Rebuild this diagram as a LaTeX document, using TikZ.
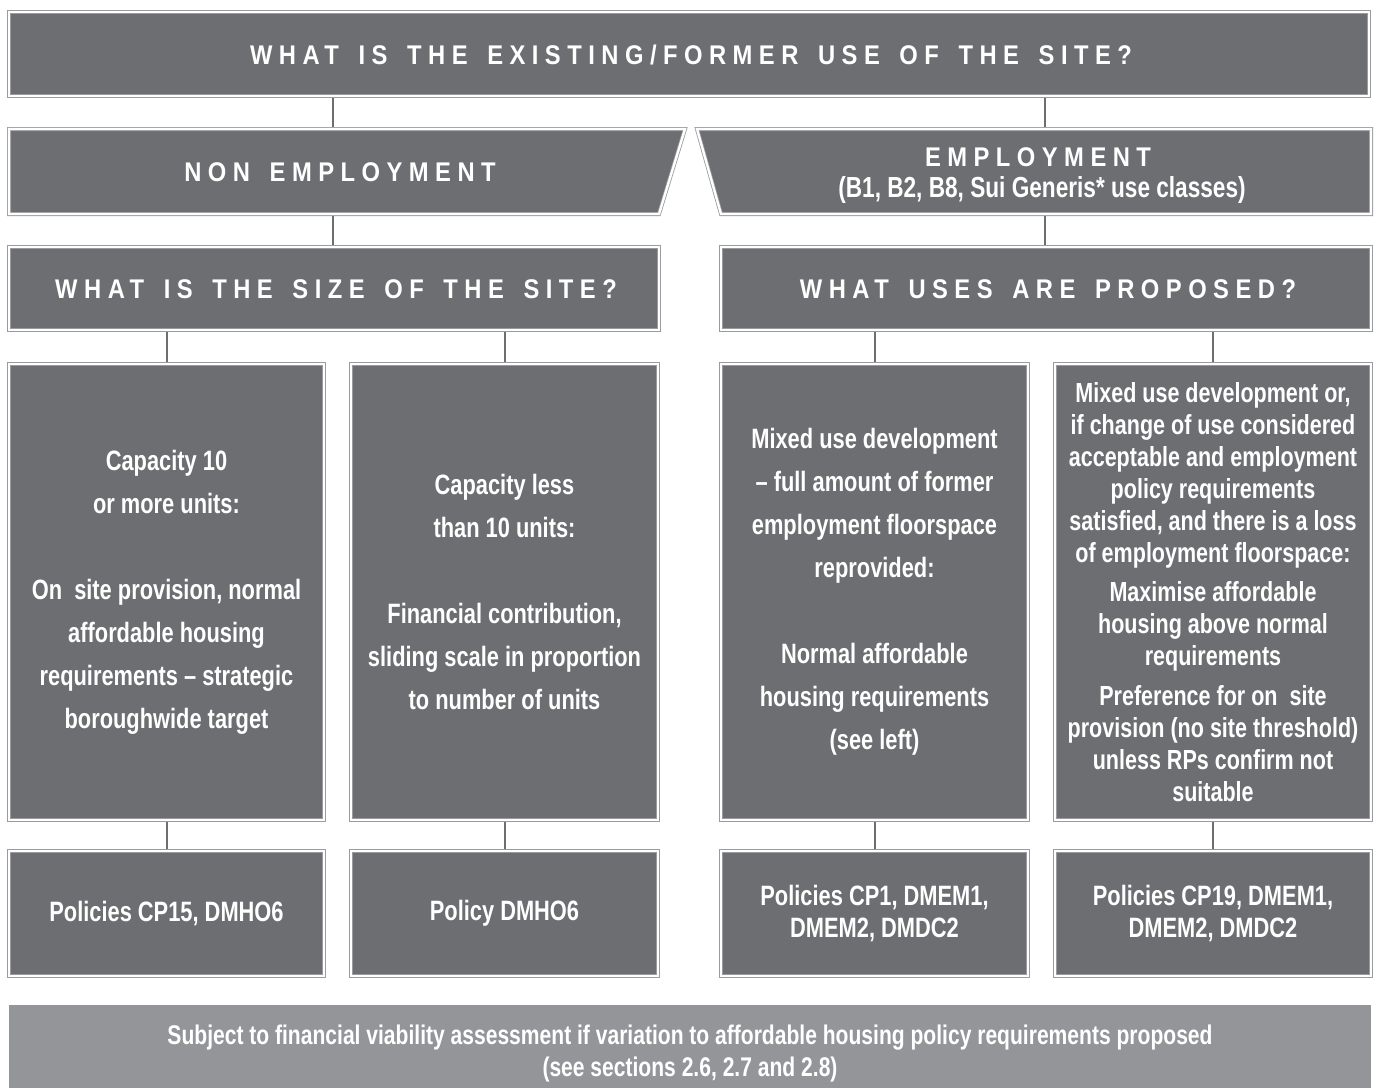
\documentclass[tikz,border=0pt]{standalone}
\usepackage{fontspec}
\setmainfont{Liberation Sans}
\newfontfamily\condfont{Liberation Sans}[FakeStretch=0.78]
\newfontfamily\spacedfont{Liberation Sans}[FakeStretch=0.88,LetterSpace=24,WordSpace=1.5]
\usetikzlibrary{positioning}

\definecolor{boxgray}{HTML}{6D6E71}
\definecolor{rimgray}{HTML}{9A9B9E}
\definecolor{bargray}{HTML}{939598}

\tikzset{
  rim/.style={fill=boxgray, draw=rimgray, double=white, double distance=2.4pt, line width=0.8pt},
  panel/.style={rim, inner sep=0pt, outer sep=2pt, text=white, align=center,
    font=\condfont\bfseries\fontsize{28}{43}\selectfont},
  headline/.style={text=white, inner sep=0pt, font=\spacedfont\bfseries\fontsize{27}{32}\selectfont},
  small/.style={font=\condfont\bfseries\fontsize{27}{32}\selectfont},
  link/.style={draw=boxgray, line width=2pt},
}

\begin{document}
\begin{tikzpicture}[x=1pt, y=-1pt]
\useasboundingbox (0,0) rectangle (1378,1088);

% top question
\node[panel, minimum width=1360, minimum height=84] (top) at (689,54) {};
\node[headline] at (691,55) {WHAT IS THE EXISTING/FORMER USE OF THE SITE?};

% the two slanted boxes
\draw[rim] (9,129) -- (685,129) -- (659,214) -- (9,214) -- cycle;
\draw[rim] (697,129) -- (1371,129) -- (1371,214) -- (721,214) -- cycle;
\coordinate (ne-n) at (333,127);
\coordinate (ne-s) at (333,216);
\coordinate (em-n) at (1045,127);
\coordinate (em-s) at (1045,216);
\node[headline] (nonemp) at (340,172) {NON EMPLOYMENT};
\node[headline] (emp) at (1038,157) {EMPLOYMENT};
\node[font=\condfont\bfseries\fontsize{29}{32}\selectfont, text=white, inner sep=0pt] (classes) at (1042,190) {(B1, B2, B8, Sui Generis* use classes)};

% second questions
\node[panel, minimum width=650, minimum height=83] (size) at (334,288.5) {};
\node[headline] at (336,289) {WHAT IS THE SIZE OF THE SITE?};
\node[panel, minimum width=650, minimum height=83] (uses) at (1046,288.5) {};
\node[headline] at (1048,289) {WHAT USES ARE PROPOSED?};

% answers
\node[panel, minimum width=315, minimum height=456] (capA) at (166.5,592) {Capacity 10\\or more units:\\[43pt]On\ \ site provision, normal\\affordable housing\\requirements – strategic\\boroughwide target};
\node[panel, minimum width=307, minimum height=456] (capB) at (504.5,592) {Capacity less\\than 10 units:\\[43pt]Financial contribution,\\sliding scale in proportion\\to number of units};
\node[panel, minimum width=307, minimum height=456] (mixA) at (874.5,592) {Mixed use development\\– full amount of former\\employment floorspace\\reprovided:\\[43pt]Normal affordable\\housing requirements\\(see left)};
\node[panel, minimum width=316, minimum height=456, font=\condfont\bfseries\fontsize{27.6}{32}\selectfont] (mixB) at (1213,592) {Mixed use development or,\\if change of use considered\\acceptable and employment\\policy requirements\\satisfied, and there is a loss\\of employment floorspace:\\[7pt]Maximise affordable\\housing above normal\\requirements\\[8pt]Preference for on\ \ site\\provision (no site threshold)\\unless RPs confirm not\\suitable};

% policies
\node[panel, minimum width=315, minimum height=125] (polA) at (166.5,913.5) {Policies CP15, DMHO6};
\node[panel, minimum width=307, minimum height=125] (polB) at (504.5,913.5) {Policy DMHO6};
\node[panel, minimum width=307, minimum height=125, font=\condfont\bfseries\fontsize{28}{32}\selectfont] (polC) at (874.5,913.5) {Policies CP1, DMEM1,\\DMEM2, DMDC2};
\node[panel, minimum width=316, minimum height=125, font=\condfont\bfseries\fontsize{28}{32}\selectfont] (polD) at (1213,913.5) {Policies CP19, DMEM1,\\DMEM2, DMDC2};

% footnote bar
\node[fill=bargray, minimum width=1362, minimum height=83, inner sep=0pt] (note) at (690,1046.5) {};
\node[text=white, align=center, inner sep=0pt, small] at (690,1053) {Subject to financial viability assessment if variation to affordable housing policy requirements proposed\\(see sections 2.6, 2.7 and 2.8)};

% connectors
\draw[link] (top.south -| ne-n) -- (ne-n);
\draw[link] (top.south -| em-n) -- (em-n);
\draw[link] (ne-s) -- (size.north -| ne-s);
\draw[link] (em-s) -- (uses.north -| em-s);
\foreach \a/\b in {size/capA, size/capB, uses/mixA, uses/mixB}
  \draw[link] (\a.south -| \b) -- (\b.north);
\foreach \a/\b in {capA/polA, capB/polB, mixA/polC, mixB/polD}
  \draw[link] (\a) -- (\b);

\end{tikzpicture}
\end{document}
